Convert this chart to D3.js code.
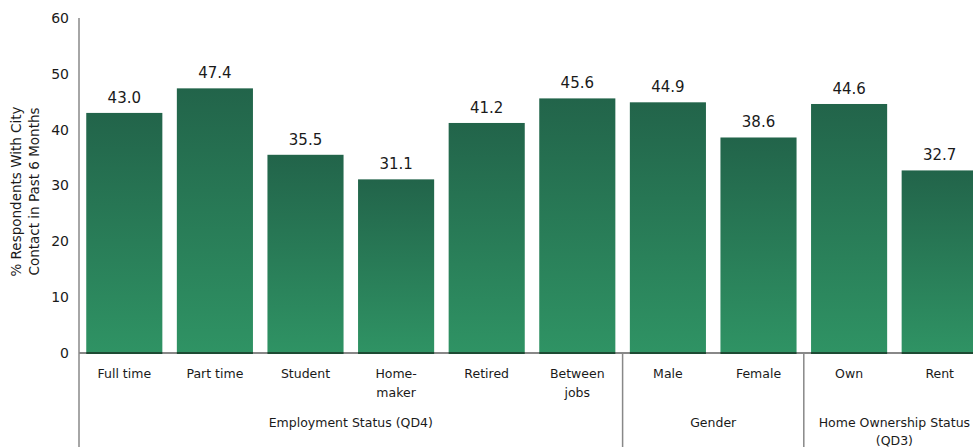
<!DOCTYPE html>
<html>
<head>
<meta charset="utf-8">
<script src="https://cdn.jsdelivr.net/npm/d3@7"></script>
<style>
  html, body { margin: 0; padding: 0; background: #fff; }
  svg { display: block; }
  text { font-family: "DejaVu Sans", Verdana, sans-serif; fill: #1a1a1a; }
</style>
</head>
<body>
<svg id="chart" width="973" height="447"></svg>
<script>
// Share of respondents with city contact in the past 6 months, by subgroup
const categories = [
  ["Full time"], ["Part time"], ["Student"], ["Home-", "maker"], ["Retired"],
  ["Between", "jobs"], ["Male"], ["Female"], ["Own"], ["Rent"]
];
const values = [43.0, 47.4, 35.5, 31.1, 41.2, 45.6, 44.9, 38.6, 44.6, 32.7];
const groups = [
  { label: ["Employment Status (QD4)"], start: 0, end: 5 },
  { label: ["Gender"], start: 6, end: 7 },
  { label: ["Home Ownership Status", "(QD3)"], start: 8, end: 9 }
];
const yTicks = [0, 10, 20, 30, 40, 50, 60];
const yTitle = ["% Respondents With City", "Contact in Past 6 Months"];

(function draw() {
  const svg = d3.select("#chart");
  const W = 973, H = 447;
  const mLeft = 79, mTop = 18, mBottom = 353;
  const plotRight = mLeft + 906; // plot runs slightly past the right edge

  const x = d3.scaleBand()
    .domain(d3.range(values.length))
    .range([mLeft, plotRight])
    .paddingInner(0.16)
    .paddingOuter(0.08);

  const y = d3.scaleLinear().domain([0, 60]).range([mBottom, mTop]);

  // Vertical gradient for the bars
  const defs = svg.append("defs");
  const grad = defs.append("linearGradient")
    .attr("id", "barGrad").attr("x1", 0).attr("y1", 0).attr("x2", 0).attr("y2", 1);
  grad.append("stop").attr("offset", "0%").attr("stop-color", "#22644a");
  grad.append("stop").attr("offset", "100%").attr("stop-color", "#2f9364");

  // Bars
  svg.append("g").selectAll("rect")
    .data(values)
    .join("rect")
    .attr("x", (d, i) => x(i))
    .attr("y", d => y(d))
    .attr("width", x.bandwidth())
    .attr("height", d => y(0) - y(d))
    .attr("fill", "url(#barGrad)");

  // Value labels
  svg.append("g").selectAll("text")
    .data(values)
    .join("text")
    .attr("x", (d, i) => x(i) + x.bandwidth() / 2)
    .attr("y", d => y(d) - 10)
    .attr("text-anchor", "middle")
    .attr("font-size", 15)
    .text(d => d.toFixed(1));

  // Y axis
  const yAxis = d3.axisLeft(y).tickValues(yTicks).tickSize(0).tickPadding(10);
  const yg = svg.append("g").attr("transform", `translate(${mLeft},0)`).call(yAxis);
  yg.select(".domain").remove();
  yg.selectAll("text").attr("font-size", 14).attr("font-family", "DejaVu Sans, sans-serif").attr("fill", "#1a1a1a");

  svg.append("line")
    .attr("x1", mLeft).attr("x2", mLeft).attr("y1", mTop).attr("y2", H)
    .attr("stroke", "#888").attr("stroke-width", 1.5);

  // Baseline, with a dark edge under each bar
  svg.append("line")
    .attr("x1", mLeft).attr("x2", W).attr("y1", y(0)).attr("y2", y(0))
    .attr("stroke", "#888").attr("stroke-width", 2);
  svg.append("g").selectAll("line")
    .data(values)
    .join("line")
    .attr("x1", (d, i) => x(i)).attr("x2", (d, i) => x(i) + x.bandwidth())
    .attr("y1", y(0)).attr("y2", y(0))
    .attr("stroke", "#1d4a33").attr("stroke-width", 2);

  // Category labels
  const catG = svg.append("g");
  categories.forEach((lines, i) => {
    const cx = x(i) + x.bandwidth() / 2;
    const t = catG.append("text")
      .attr("x", cx)
      .attr("y", 378)
      .attr("text-anchor", "middle")
      .attr("font-size", 12.5);
    lines.forEach((ln, k) => {
      t.append("tspan").attr("x", cx).attr("dy", k === 0 ? 0 : 19).text(ln);
    });
  });

  // Group separators and labels
  const gap = x.step() - x.bandwidth();
  groups.forEach((g, gi) => {
    const x0 = x(g.start) - gap / 2;
    const x1 = x(g.end) + x.bandwidth() + gap / 2;
    if (gi > 0) {
      svg.append("line")
        .attr("x1", x0).attr("x2", x0).attr("y1", y(0)).attr("y2", H)
        .attr("stroke", "#888").attr("stroke-width", 1.5);
    }
    const t = svg.append("text")
      .attr("x", (x0 + x1) / 2)
      .attr("y", 427)
      .attr("text-anchor", "middle")
      .attr("font-size", 12.5);
    g.label.forEach((ln, k) => {
      t.append("tspan").attr("x", (x0 + x1) / 2).attr("dy", k === 0 ? 0 : 18).text(ln);
    });
  });

  // Y axis title
  const tt = svg.append("text")
    .attr("transform", `translate(21,${(mTop + mBottom) / 2 + 6}) rotate(-90)`)
    .attr("text-anchor", "middle")
    .attr("font-size", 13.5);
  yTitle.forEach((ln, k) => {
    tt.append("tspan").attr("x", 0).attr("dy", k === 0 ? 0 : 18).text(ln);
  });
})();
</script>
</body>
</html>
